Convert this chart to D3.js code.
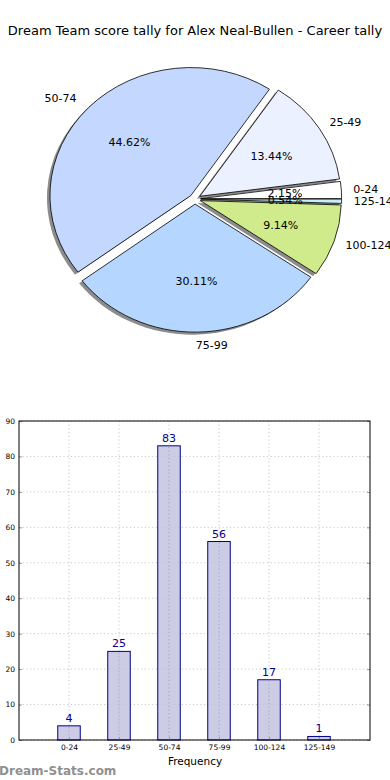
<!DOCTYPE html>
<meta charset="utf-8">
<script src="https://d3js.org/d3.v7.min.js"></script>
<style>
  body { margin: 0; background: #fff; }
  text { font-family: "DejaVu Sans", sans-serif; }
</style>
<svg id="chart" width="390" height="780"></svg>
<script>
  // data
  var categories = ["0-24", "25-49", "50-74", "75-99", "100-124", "125-149"];
  var counts = [4, 25, 83, 56, 17, 1];
  var sliceColors = ["#ffffff", "#ebf1fe", "#c4d8ff", "#b4d6ff", "#cfeb8c", "#c8eef6"];
  var yTicks = [0, 10, 20, 30, 40, 50, 60, 70, 80, 90];

  var svg = d3.select("#chart");

  svg.append("text")
    .attr("x", 195).attr("y", 35)
    .attr("text-anchor", "middle")
    .style("font-size", "13px")
    .text("Dream Team score tally for Alex Neal-Bullen - Career tally");

  // pie (matplotlib style: ccw from east, elliptical)
  var cx = 195, cy = 199, rx = 141, ry = 128, explode = 0.04;
  var total = d3.sum(counts);

  var pie = d3.pie().sort(null)
    .startAngle(Math.PI / 2)
    .endAngle(Math.PI / 2 - 2 * Math.PI);
  var arcs = pie(counts);
  var arc = d3.arc().innerRadius(0).outerRadius(1);

  function offs(d, k) {
    var a = (d.startAngle + d.endAngle) / 2;
    return [cx + k * rx * Math.sin(a), cy - k * ry * Math.cos(a)];
  }

  var pieG = svg.append("g");
  // shadows
  pieG.selectAll("path.shadow")
    .data(arcs).enter().append("path")
    .attr("class", "shadow")
    .attr("d", arc)
    .attr("transform", function (d) {
      var o = offs(d, explode);
      return "translate(" + (o[0] - 3) + "," + (o[1] + 2.5) + ") scale(" + rx + "," + ry + ")";
    })
    .attr("fill", "#000")
    .attr("opacity", 0.45);

  pieG.selectAll("path.slice")
    .data(arcs).enter().append("path")
    .attr("class", "slice")
    .attr("d", arc)
    .attr("transform", function (d) {
      var o = offs(d, explode);
      return "translate(" + o[0] + "," + o[1] + ") scale(" + rx + "," + ry + ")";
    })
    .attr("fill", function (d, i) { return sliceColors[i]; })
    .attr("stroke", "#000")
    .attr("stroke-width", 0.8)
    .attr("vector-effect", "non-scaling-stroke");

  // outer labels
  pieG.selectAll("text.lab")
    .data(arcs).enter().append("text")
    .attr("class", "lab")
    .attr("x", function (d) { return offs(d, 1.1 + explode)[0] - 2; })
    .attr("y", function (d) { return offs(d, 1.1 + explode)[1]; })
    .attr("dy", "0.35em")
    .attr("text-anchor", function (d) {
      return Math.sin((d.startAngle + d.endAngle) / 2) >= 0 ? "start" : "end";
    })
    .style("font-size", "11px")
    .text(function (d, i) { return categories[i]; });

  // pct labels
  pieG.selectAll("text.pct")
    .data(arcs).enter().append("text")
    .attr("class", "pct")
    .attr("x", function (d) { return offs(d, 0.6 + explode)[0]; })
    .attr("y", function (d) { return offs(d, 0.6 + explode)[1]; })
    .attr("dy", "0.35em")
    .attr("text-anchor", "middle")
    .style("font-size", "11px")
    .text(function (d) { return (d.value / total * 100).toFixed(2) + "%"; });

  // bar chart
  var plotL = 19, plotR = 370, plotT = 421, plotB = 740;
  var x = d3.scaleLinear().domain([-1, 6]).range([plotL, plotR - 1]);
  var y = d3.scaleLinear().domain([0, 90]).range([plotB, plotT]);
  var barW = 0.45;

  var bg = svg.append("g");

  // grid
  bg.selectAll("line.hgrid")
    .data(yTicks).enter().append("line")
    .attr("x1", plotL).attr("x2", plotR)
    .attr("y1", function (d) { return y(d); })
    .attr("y2", function (d) { return y(d); })
    .attr("stroke", "#c8c8c8")
    .attr("stroke-dasharray", "1.2,2.5");

  bg.selectAll("line.vgrid")
    .data(categories).enter().append("line")
    .attr("x1", function (d, i) { return x(i); })
    .attr("x2", function (d, i) { return x(i); })
    .attr("y1", plotT).attr("y2", plotB)
    .attr("stroke", "#c8c8c8")
    .attr("stroke-dasharray", "1.2,2.5");

  bg.selectAll("rect.bar")
    .data(counts).enter().append("rect")
    .attr("class", "bar")
    .attr("x", function (d, i) { return x(i - barW / 2); })
    .attr("width", function () { return x(barW) - x(0); })
    .attr("y", function (d) { return y(d); })
    .attr("height", function (d) { return plotB - y(d); })
    .attr("fill", "#bfbfdf")
    .attr("fill-opacity", 0.8)
    .attr("stroke", "#00008b")
    .attr("stroke-width", 1);

  bg.selectAll("text.val")
    .data(counts).enter().append("text")
    .attr("x", function (d, i) { return x(i); })
    .attr("y", function (d) { return y(d) - 4; })
    .attr("text-anchor", "middle")
    .attr("fill", "#00008b")
    .style("font-size", "11px")
    .text(function (d) { return d; });

  // grid stays visible through bars
  bg.selectAll("line.vgrid2")
    .data(counts).enter().append("line")
    .attr("x1", function (d, i) { return x(i); })
    .attr("x2", function (d, i) { return x(i); })
    .attr("y1", function (d) { return y(d) + 1; }).attr("y2", plotB)
    .attr("stroke", "#a8a8c0")
    .attr("stroke-dasharray", "1.2,2.5");

  // axes
  var yAxis = d3.axisLeft(y).tickValues(yTicks).tickSize(-3).tickPadding(4);
  var yg = bg.append("g").attr("transform", "translate(" + plotL + ",0)").call(yAxis);
  yg.select(".domain").remove();
  yg.selectAll("text").style("font-size", "7.5px").attr("font-family", "DejaVu Sans Condensed, DejaVu Sans");
  yg.selectAll("line").attr("stroke", "#999");

  var yAxisR = d3.axisRight(y).tickValues(yTicks).tickSize(-3).tickFormat("");
  var yg2 = bg.append("g").attr("transform", "translate(" + plotR + ",0)").call(yAxisR);
  yg2.select(".domain").remove();
  yg2.selectAll("line").attr("stroke", "#999");

  var xAxis = d3.axisBottom(x).tickValues(d3.range(categories.length))
    .tickFormat(function (d) { return categories[d]; })
    .tickSize(-3).tickPadding(5);
  var xg = bg.append("g").attr("transform", "translate(0," + plotB + ")").call(xAxis);
  xg.select(".domain").remove();
  xg.selectAll("text").style("font-size", "7.5px").attr("font-family", "DejaVu Sans Condensed, DejaVu Sans");
  xg.selectAll("line").attr("stroke", "#999");

  bg.append("rect")
    .attr("x", plotL).attr("y", plotT)
    .attr("width", plotR - plotL).attr("height", plotB - plotT)
    .attr("fill", "none").attr("stroke", "#000").attr("stroke-width", 1);

  bg.append("text")
    .attr("x", 195).attr("y", 765)
    .attr("text-anchor", "middle")
    .style("font-size", "10.5px")
    .text("Frequency");

  svg.append("text")
    .attr("x", -1).attr("y", 775)
    .attr("fill", "#909090")
    .style("font-size", "12px")
    .style("font-weight", "bold")
    .text("Dream-Stats.com");
</script>
